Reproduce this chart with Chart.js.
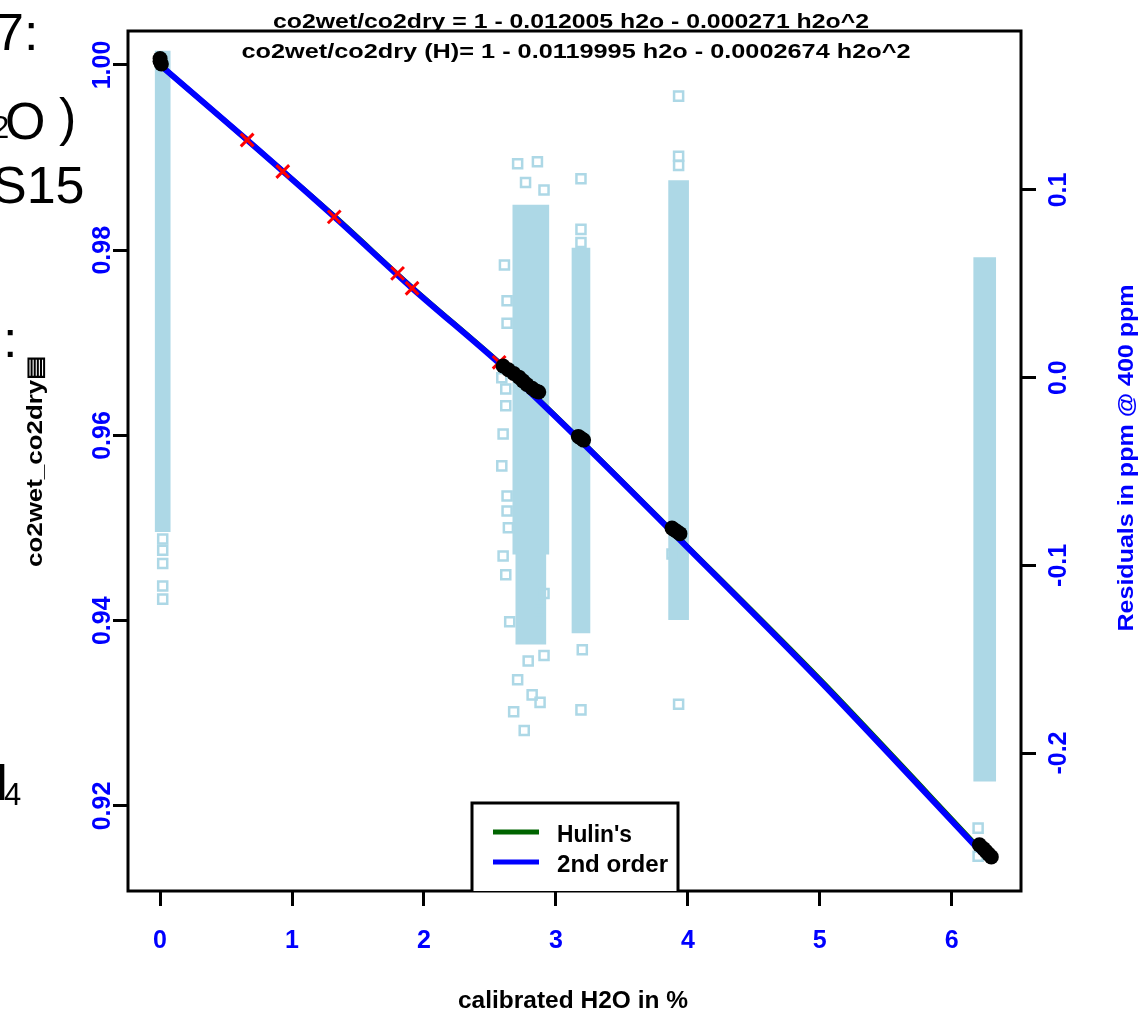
<!DOCTYPE html>
<html>
<head>
<meta charset="utf-8">
<script src="https://cdn.jsdelivr.net/npm/chart.js@4.4.1/dist/chart.umd.min.js"></script>
<style>
  html, body { margin: 0; padding: 0; background: #fff; overflow: hidden; }
  #wrap { position: relative; width: 1138px; height: 1011px; }
  canvas { position: absolute; left: 0; top: 0; }
  .frag { position: absolute; font-family: "Liberation Sans", Arial, sans-serif; color: #000; white-space: nowrap; }
  .big { font-size: 52px; line-height: 52px; }
  .sub { font-size: 31px; line-height: 31px; }
</style>
</head>
<body>
<div id="wrap">
  <canvas id="myChart" width="1138" height="1011"></canvas>
  <!-- bits of the neighbouring slide text, cut at the left edge -->
  <span class="frag big" style="left:-5px;top:6px">7:</span>
  <span class="frag sub" style="left:-8px;top:112px">2</span>
  <span class="frag big" style="left:5px;top:95px">O</span>
  <span class="frag big" style="left:59px;top:91px">)</span>
  <span class="frag big" style="left:-8px;top:159px">S15</span>
  <span class="frag big" style="left:3px;top:313px">:</span>
  <span class="frag big" style="left:-29px;top:756px">H</span>
  <span class="frag sub" style="left:4px;top:779px">4</span>
</div>
<script>
// axis ranges
const xMin = -0.243, xMax = 6.525;
const ratioMin = 0.91082, ratioMax = 1.00367;
const resMin = -0.2735, resMax = 0.1847;

// measured co2wet/co2dry (black dots)
const ratioX = [0.00, 0.00, 0.01, 2.60, 2.64, 2.68, 2.72, 2.75, 2.78, 2.82, 2.85, 2.87,
  3.17, 3.19, 3.21, 3.88, 3.90, 3.92, 3.94, 6.21, 6.24, 6.26, 6.28, 6.30];
const ratioY = [1.0007, 1.0004, 1.0001, 0.9675, 0.9671, 0.9667, 0.9663, 0.9659, 0.9655, 0.9651, 0.9648, 0.9647,
  0.9599, 0.9597, 0.9595, 0.9500, 0.9498, 0.9496, 0.9494, 0.9158, 0.9154, 0.9151, 0.9148, 0.9145];

// reference points (red crosses)
const refX = [0.66, 0.93, 1.32, 1.80, 1.91, 2.57];
const refY = [0.9919, 0.9885, 0.9836, 0.9775, 0.9759, 0.9679];

// fitted curves
const fitX = [0, 0.66, 1.32, 1.91, 2.6, 3.18, 3.9, 5.0, 6.23];
const fit2nd = [1.0000, 0.9919, 0.9836, 0.9759, 0.9674, 0.9595, 0.9493, 0.9335, 0.9149];
const fitHulin = [1.0000, 0.9919, 0.9837, 0.9760, 0.9675, 0.9596, 0.9494, 0.9337, 0.9151];

// residuals, dense part of each column (right axis)
const coreX = [0.02, 2.81, 2.81, 3.19, 3.93, 6.25];
const coreLo = [-0.082, -0.094, -0.142, -0.136, -0.129, -0.215];
const coreHi = [0.174, 0.092, -0.094, 0.069, 0.105, 0.064];

// residuals, single squares outside the dense part
const resX = [0.02, 0.02, 0.02, 0.02, 0.02,
  2.71, 2.86, 2.77, 2.91,
  2.63, 2.61, 2.63, 2.59, 2.62, 2.62, 2.60, 2.59, 2.63, 2.63, 2.64, 2.60, 2.62, 2.65,
  2.91, 2.88, 2.79, 2.91, 2.71, 2.82, 2.88, 2.68, 2.76,
  3.19, 3.19, 3.19, 3.20, 3.19,
  3.93, 3.93, 3.93, 3.88, 3.93,
  6.20, 6.20];
const resY = [-0.086, -0.092, -0.099, -0.111, -0.118,
  0.114, 0.115, 0.104, 0.100,
  0.041, 0.060, 0.029, 0.000, -0.006, -0.015, -0.030, -0.047, -0.063, -0.071, -0.080, -0.095, -0.105, -0.130,
  -0.115, -0.124, -0.151, -0.148, -0.161, -0.169, -0.173, -0.178, -0.188,
  0.106, 0.079, 0.072, -0.145, -0.177,
  0.150, 0.118, 0.113, -0.094, -0.174,
  -0.240, -0.255];

const titleLines = [
  "co2wet/co2dry = 1 - 0.012005 h2o - 0.000271 h2o^2",
  "co2wet/co2dry (H)= 1 - 0.0119995 h2o - 0.0002674 h2o^2"
];
const xTitle = "calibrated H2O in %";
const yTitle = "co2wet_co2dry\u25A4";
const yRTitle = "Residuals in ppm @ 400 ppm";

// styles
const BLUE = "#0000FF";
const LIGHTBLUE = "#ADD8E6";
const SANS = '"Liberation Sans", Arial, sans-serif';
const coreWidthPx = [15, 36, 30, 18, 20, 22];

function pts(xs, ys) {
  return xs.map(function (x, i) { return { x: x, y: ys[i] }; });
}

// draws text squeezed to a given width (the picture uses a condensed face)
function fitText(ctx, text, x, y, w, font, color, rotate, align) {
  ctx.save();
  ctx.font = font;
  ctx.fillStyle = color;
  ctx.textAlign = align || "center";
  ctx.textBaseline = "alphabetic";
  var m = ctx.measureText(text).width;
  ctx.translate(x, y);
  if (rotate) ctx.rotate(-Math.PI / 2);
  ctx.scale(w / m, 1);
  ctx.fillText(text, 0, 0);
  ctx.restore();
}

const decor = {
  id: "decor",
  afterDatasetsDraw(chart) {
    const ctx = chart.ctx;
    const a = chart.chartArea;
    ctx.save();
    ctx.strokeStyle = "#000";
    ctx.lineWidth = 3;
    ctx.strokeRect(a.left, a.top, a.right - a.left, a.bottom - a.top);

    // legend box
    ctx.fillStyle = "#fff";
    ctx.fillRect(472, 803, 206, a.bottom - 803);
    ctx.beginPath();
    ctx.moveTo(472, a.bottom);
    ctx.lineTo(472, 803);
    ctx.lineTo(678, 803);
    ctx.lineTo(678, a.bottom);
    ctx.stroke();
    const entries = chart.data.datasets.filter(function (d) { return d.inLegend; });
    entries.sort(function (p, q) { return p.inLegend - q.inLegend; });
    const textW = [75, 111];
    entries.forEach(function (d, i) {
      ctx.strokeStyle = d.borderColor;
      ctx.lineWidth = 5;
      ctx.beginPath();
      ctx.moveTo(493, 832 + i * 30);
      ctx.lineTo(539, 832 + i * 30);
      ctx.stroke();
      fitText(ctx, d.label, 557, 842 + i * 30, textW[i], "bold 23px " + SANS, "#000", false, "left");
    });
    ctx.restore();
  },
  afterDraw(chart) {
    const ctx = chart.ctx;
    fitText(ctx, titleLines[0], 571, 28, 596, "bold 21px " + SANS, "#000");
    fitText(ctx, titleLines[1], 576, 58, 669, "bold 21px " + SANS, "#000");
    fitText(ctx, xTitle, 573, 1008, 230, "bold 23px " + SANS, "#000");
    fitText(ctx, yTitle, 42, 461, 212, "bold 22px " + SANS, "#000", true);
    fitText(ctx, yRTitle, 1133, 458, 347, "bold 22px " + SANS, BLUE, true);
  }
};

const tickGrid = {
  display: true,
  offset: false,
  drawOnChartArea: false,
  drawTicks: true,
  tickLength: 15,
  tickWidth: 3,
  tickColor: "#000"
};
const tickFont = { family: SANS, size: 25, weight: "bold" };

const coreSets = coreX.map(function (cx, i) {
  return {
    type: "bar",
    label: "res core " + i,
    xAxisID: "x",
    yAxisID: "yR",
    data: [{ x: cx, y: [coreLo[i], coreHi[i]] }],
    backgroundColor: LIGHTBLUE,
    borderWidth: 0,
    grouped: false,
    barPercentage: 1,
    categoryPercentage: 1,
    maxBarThickness: coreWidthPx[i],
    order: 7
  };
});

const ctx = document.getElementById("myChart");
const myChart = new Chart(ctx, {
  type: "scatter",
  data: {
    datasets: [
      {
        label: "measured",
        data: pts(ratioX, ratioY),
        yAxisID: "y",
        pointRadius: 7.5,
        pointBackgroundColor: "#000",
        pointBorderWidth: 0,
        order: 1
      },
      {
        label: "reference",
        data: pts(refX, refY),
        yAxisID: "y",
        pointStyle: "crossRot",
        pointRadius: 9,
        pointBorderColor: "#FF0000",
        pointBorderWidth: 3,
        order: 2
      },
      {
        type: "line",
        label: "2nd order",
        inLegend: 2,
        data: pts(fitX, fit2nd),
        yAxisID: "y",
        borderColor: BLUE,
        borderWidth: 6,
        pointRadius: 0,
        tension: 0.3,
        showLine: true,
        order: 3
      },
      {
        type: "line",
        label: "Hulin's",
        inLegend: 1,
        data: pts(fitX, fitHulin),
        yAxisID: "y",
        borderColor: "#006400",
        borderWidth: 5,
        pointRadius: 0,
        tension: 0.3,
        showLine: true,
        order: 4
      },
      {
        label: "residuals",
        data: pts(resX, resY),
        yAxisID: "yR",
        pointStyle: "rect",
        pointRadius: 6.4,
        pointBorderColor: LIGHTBLUE,
        pointBackgroundColor: "rgba(0,0,0,0)",
        pointBorderWidth: 2.5,
        order: 5
      }
    ].concat(coreSets)
  },
  options: {
    responsive: false,
    animation: false,
    layout: { padding: { top: 31, left: 0, right: 0, bottom: 0 } },
    plugins: { legend: { display: false }, tooltip: { enabled: false } },
    scales: {
      x: {
        type: "linear",
        position: "bottom",
        offset: false,
        min: xMin,
        max: xMax,
        afterFit: function (s) { s.height = 120; },
        grid: tickGrid,
        border: { display: false },
        ticks: {
          stepSize: 1, includeBounds: false, autoSkip: false, maxRotation: 0,
          padding: 20, color: BLUE, font: tickFont
        }
      },
      y: {
        type: "linear",
        position: "left",
        min: ratioMin,
        max: ratioMax,
        afterFit: function (s) { s.width = 128; },
        grid: tickGrid,
        border: { display: false },
        ticks: {
          stepSize: 0.02, includeBounds: false, autoSkip: false,
          minRotation: 90, maxRotation: 90, crossAlign: "center", padding: -14,
          color: BLUE, font: tickFont,
          callback: function (v) { return v.toFixed(2); }
        }
      },
      yR: {
        type: "linear",
        position: "right",
        offset: false,
        min: resMin,
        max: resMax,
        afterFit: function (s) { s.width = 117; },
        grid: tickGrid,
        border: { display: false },
        ticks: {
          stepSize: 0.1, includeBounds: false, autoSkip: false,
          minRotation: 90, maxRotation: 90, crossAlign: "center", padding: 2,
          color: BLUE, font: tickFont,
          callback: function (v) { return (Math.abs(v) < 1e-9 ? 0 : v).toFixed(1); }
        }
      }
    }
  },
  plugins: [decor]
});
</script>
</body>
</html>
